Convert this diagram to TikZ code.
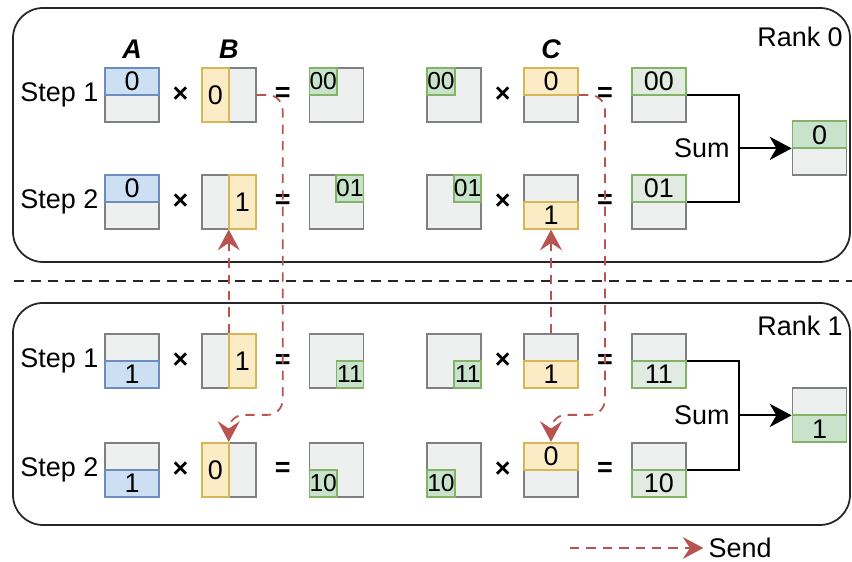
\documentclass[tikz,border=0pt]{standalone}
\usepackage{fontspec}
\setmainfont{Liberation Sans}
\usepackage{xcolor}
\usepackage{tikz}
\usetikzlibrary{shapes,arrows.meta,positioning,calc}
\definecolor{cellgray}{RGB}{128,128,128}
\definecolor{cellfill}{RGB}{238,240,239}
\definecolor{blueline}{RGB}{108,142,191}
\definecolor{bluefill}{RGB}{205,223,243}
\definecolor{yelline}{RGB}{214,182,86}
\definecolor{yelfill}{RGB}{252,236,198}
\definecolor{grnline}{RGB}{130,179,102}
\definecolor{grnfill}{RGB}{200,226,203}
\definecolor{sendred}{RGB}{184,84,80}

\begin{document}
\begin{tikzpicture}[
  font=\fontsize{23}{27}\selectfont,
  cell/.style={draw=cellgray, fill=cellfill, line width=1.5pt, minimum width=1.62cm, minimum height=1.62cm, inner sep=0pt},
  hhalf/.style={line width=1.5pt, minimum width=1.62cm, minimum height=0.81cm, inner sep=0pt},
  vhalf/.style={line width=1.5pt, minimum width=0.81cm, minimum height=1.62cm, inner sep=0pt},
  quarter/.style={line width=1.5pt, minimum width=0.81cm, minimum height=0.81cm, inner sep=0pt, font=\fontsize{21}{24}\selectfont},
  bluepart/.style={draw=blueline, fill=bluefill},
  yelpart/.style={draw=yelline, fill=yelfill},
  grnpart/.style={draw=grnline, fill=grnfill},
  grnedge/.style={draw=grnline, fill=grnfill!35!cellfill},
  rankbox/.style={draw=black!85, line width=1.5pt, rounded corners=0.9cm, minimum width=25.11cm},
  head/.style={font=\fontsize{23}{27}\selectfont\bfseries\itshape},
  send/.style={draw=sendred, line width=1.5pt, dash pattern=on 8pt off 6pt, -{Stealth[length=0.62cm, width=0.66cm, inset=0.22cm]}},
  sumline/.style={draw=black, line width=1.5pt},
]
\useasboundingbox (0,0) rectangle (25.56,16.86);

% Rank boxes
\node[rankbox, minimum height=7.62cm] (rank0) at (12.945,12.81) {};
\node[rankbox, minimum height=6.66cm] (rank1) at (12.945,4.44) {};
\node[anchor=east] (rank0lbl) at ([xshift=-0.12cm, yshift=-0.9cm]rank0.north east) {Rank 0};
\node[anchor=east] (rank1lbl) at ([xshift=-0.12cm, yshift=-0.72cm]rank1.north east) {Rank 1};

% Separator
\coordinate (sepl) at (0.42,8.43);
\coordinate (sepr) at (25.56,8.43);
\draw[black!85, line width=1.3pt, dash pattern=on 8.5pt off 6pt] (sepl) -- (sepr);

% Rank 0, step 1
\node[cell] (a01) at (3.96,14.01) {};
\node[hhalf, bluepart, anchor=north] (a01p) at (a01.north) {0};
\node[cell, right=1.23cm of a01] (b01) {};
\node[vhalf, yelpart, anchor=west] (b01p) at (b01.west) {0};
\node[cell, right=1.56cm of b01] (p01) {};
\node[quarter, grnpart, anchor=north west] (p01p) at (p01.north west) {00};
\node[cell, right=1.86cm of p01] (q01) {};
\node[quarter, grnpart, anchor=north west] (q01p) at (q01.north west) {00};
\node[cell, right=1.23cm of q01] (c01) {};
\node[hhalf, yelpart, anchor=north] (c01p) at (c01.north) {0};
\node[cell, right=1.56cm of c01] (r01) {};
\node[hhalf, grnedge, anchor=north] (r01p) at (r01.north) {00};

% Rank 0, step 2
\node[cell, below=1.53cm of a01] (a02) {};
\node[hhalf, bluepart, anchor=north] (a02p) at (a02.north) {0};
\node[cell, right=1.23cm of a02] (b02) {};
\node[vhalf, yelpart, anchor=east] (b02p) at (b02.east) {1};
\node[cell, right=1.56cm of b02] (p02) {};
\node[quarter, grnpart, anchor=north east] (p02p) at (p02.north east) {01};
\node[cell, right=1.86cm of p02] (q02) {};
\node[quarter, grnpart, anchor=north east] (q02p) at (q02.north east) {01};
\node[cell, right=1.23cm of q02] (c02) {};
\node[hhalf, yelpart, anchor=south] (c02p) at (c02.south) {1};
\node[cell, right=1.56cm of c02] (r02) {};
\node[hhalf, grnedge, anchor=north] (r02p) at (r02.north) {01};

% Rank 1, step 1
\node[cell] (a11) at (3.96,6.03) {};
\node[hhalf, bluepart, anchor=south] (a11p) at (a11.south) {1};
\node[cell, right=1.23cm of a11] (b11) {};
\node[vhalf, yelpart, anchor=east] (b11p) at (b11.east) {1};
\node[cell, right=1.56cm of b11] (p11) {};
\node[quarter, grnpart, anchor=south east] (p11p) at (p11.south east) {11};
\node[cell, right=1.86cm of p11] (q11) {};
\node[quarter, grnpart, anchor=south east] (q11p) at (q11.south east) {11};
\node[cell, right=1.23cm of q11] (c11) {};
\node[hhalf, yelpart, anchor=south] (c11p) at (c11.south) {1};
\node[cell, right=1.56cm of c11] (r11) {};
\node[hhalf, grnedge, anchor=south] (r11p) at (r11.south) {11};

% Rank 1, step 2
\node[cell, below=1.59cm of a11] (a12) {};
\node[hhalf, bluepart, anchor=south] (a12p) at (a12.south) {1};
\node[cell, right=1.23cm of a12] (b12) {};
\node[vhalf, yelpart, anchor=west] (b12p) at (b12.west) {0};
\node[cell, right=1.56cm of b12] (p12) {};
\node[quarter, grnpart, anchor=south west] (p12p) at (p12.south west) {10};
\node[cell, right=1.86cm of p12] (q12) {};
\node[quarter, grnpart, anchor=south west] (q12p) at (q12.south west) {10};
\node[cell, right=1.23cm of q12] (c12) {};
\node[hhalf, yelpart, anchor=north] (c12p) at (c12.north) {0};
\node[cell, right=1.56cm of c12] (r12) {};
\node[hhalf, grnedge, anchor=south] (r12p) at (r12.south) {10};

% Headers and step labels
\node[head, above=0.12cm of a01] (headA) {A};
\node[head, above=0.12cm of b01] (headB) {B};
\node[head, above=0.12cm of c01] (headC) {C};
\node[left=0.05cm of a01] (step01) {Step 1};
\node[left=0.05cm of a02] (step02) {Step 2};
\node[left=0.05cm of a11] (step11) {Step 1};
\node[left=0.05cm of a12] (step12) {Step 2};

% Operators
\node (x01) at ($(a01.east)!0.5!(b01.west)$) {\textbf{×}};
\node (e01) at ($(b01.east)!0.5!(p01.west)$) {\textbf{=}};
\node (y01) at ($(q01.east)!0.5!(c01.west)$) {\textbf{×}};
\node (f01) at ($(c01.east)!0.5!(r01.west)$) {\textbf{=}};
\node (x02) at ($(a02.east)!0.5!(b02.west)$) {\textbf{×}};
\node (e02) at ($(b02.east)!0.5!(p02.west)$) {\textbf{=}};
\node (y02) at ($(q02.east)!0.5!(c02.west)$) {\textbf{×}};
\node (f02) at ($(c02.east)!0.5!(r02.west)$) {\textbf{=}};
\node (x11) at ($(a11.east)!0.5!(b11.west)$) {\textbf{×}};
\node (e11) at ($(b11.east)!0.5!(p11.west)$) {\textbf{=}};
\node (y11) at ($(q11.east)!0.5!(c11.west)$) {\textbf{×}};
\node (f11) at ($(c11.east)!0.5!(r11.west)$) {\textbf{=}};
\node (x12) at ($(a12.east)!0.5!(b12.west)$) {\textbf{×}};
\node (e12) at ($(b12.east)!0.5!(p12.west)$) {\textbf{=}};
\node (y12) at ($(q12.east)!0.5!(c12.west)$) {\textbf{×}};
\node (f12) at ($(c12.east)!0.5!(r12.west)$) {\textbf{=}};

% Sum
\coordinate (s0) at ($(r01.east)!0.5!(r02.east)+(1.56,0)$);
\coordinate (s1) at ($(r11.east)!0.5!(r12.east)+(1.56,0)$);
\node[cell, right=1.59cm of s0] (fin0) {};
\node[hhalf, grnpart, anchor=north] (fin0p) at (fin0.north) {0};
\node[cell, right=1.59cm of s1] (fin1) {};
\node[hhalf, grnpart, anchor=south] (fin1p) at (fin1.south) {1};
\node[left=0.15cm of s0] (sum0) {Sum};
\node[left=0.15cm of s1] (sum1) {Sum};
\draw[sumline] (r01.east) -| (s0) |- (r02.east);
\draw[sumline] (r11.east) -| (s1) |- (r12.east);
\draw[sumline, -{Stealth[length=0.66cm, width=0.7cm, inset=0.2cm]}] (s0) -- (fin0);
\draw[sumline, -{Stealth[length=0.66cm, width=0.7cm, inset=0.2cm]}] (s1) -- (fin1);

% Send
\draw[send, rounded corners=0.45cm] (b01.east) -- ++(0.78,0) |- ($(b12.north)+(0,0.81)$) -- (b12.north);
\draw[send, rounded corners=0.45cm] (c01.east) -- ++(0.78,0) |- ($(c12.north)+(0,0.81)$) -- (c12.north);
\draw[send] (b11.north) -- (b02.south);
\draw[send] (c11.north) -- (c02.south);

% Legend
\node[anchor=west, inner sep=0.15cm] (sendlbl) at (21.1,0.42) {Send};
\coordinate (sendtail) at (17.1,0.42);
\draw[send] (sendtail) -- (sendlbl.west);

\end{tikzpicture}
\end{document}
